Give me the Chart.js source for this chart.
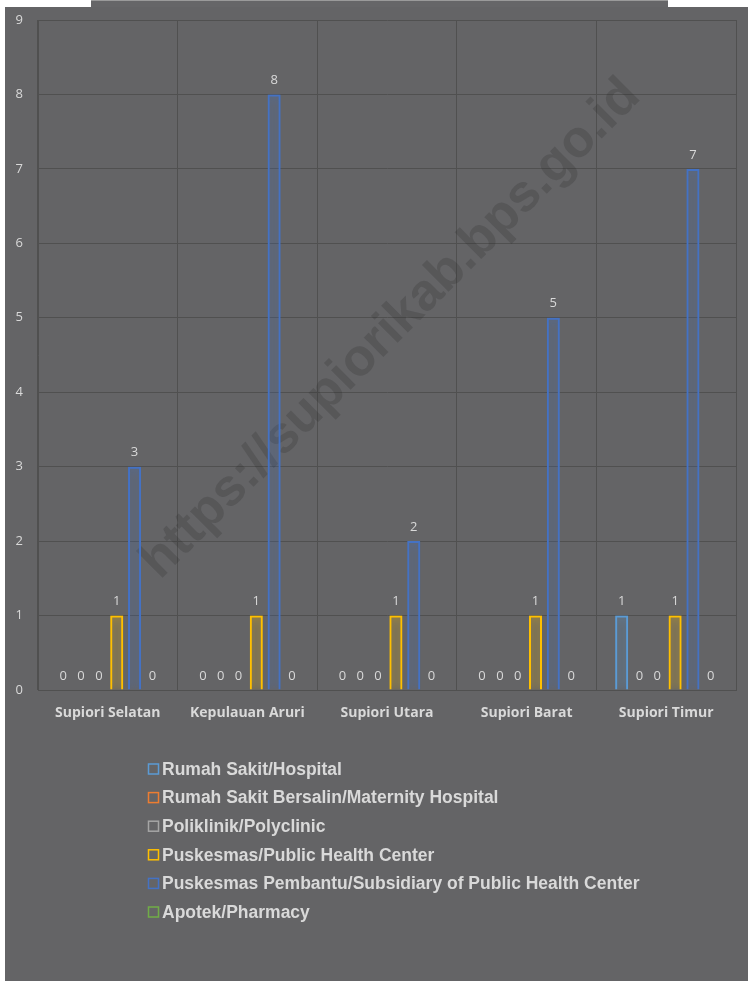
<!DOCTYPE html>
<html>
<head>
<meta charset="utf-8">
<script src="https://cdn.jsdelivr.net/npm/chart.js@4.4.1/dist/chart.umd.min.js"></script>
<style>
  html, body { margin: 0; padding: 0; background: #ffffff; }
  body { width: 748px; height: 981px; position: relative; overflow: hidden; }
  #tab { position: absolute; left: 91px; top: 0; width: 577px; height: 7px; background: #666668; border-top: 1px solid #9a9a9a; box-sizing: border-box; }
  #box { position: absolute; left: 5px; top: 7px; width: 743px; height: 974px; background: #646466; }
  canvas { display: block; }
</style>
</head>
<body>
<div id="tab"></div>
<div id="box"><canvas id="chart" width="743" height="974"></canvas></div>
<script>
const districts = ['Supiori Selatan', 'Kepulauan Aruri', 'Supiori Utara', 'Supiori Barat', 'Supiori Timur'];

const seriesNames = [
    'Rumah Sakit/Hospital',
    'Rumah Sakit Bersalin/Maternity Hospital',
    'Poliklinik/Polyclinic',
    'Puskesmas/Public Health Center',
    'Puskesmas Pembantu/Subsidiary of Public Health Center',
    'Apotek/Pharmacy'
];

const hospital = [0, 0, 0, 0, 1];
const maternity = [0, 0, 0, 0, 0];
const polyclinic = [0, 0, 0, 0, 0];
const puskesmas = [1, 1, 1, 1, 1];
const pustu = [3, 8, 2, 5, 7];
const pharmacy = [0, 0, 0, 0, 0];

const seriesColors = ['#5b9bd5', '#ed7d31', '#a5a5a5', '#ffc000', '#4472c4', '#70ad47'];
const yTicks = [0, 1, 2, 3, 4, 5, 6, 7, 8, 9];

const textColor = '#d9d9d9';
const watermarkText = 'https://supiorikab.bps.go.id';

const allSeries = [hospital, maternity, polyclinic, puskesmas, pustu, pharmacy];

// glow round the outlined bars
const glowPlugin = {
    id: 'glow',
    beforeDatasetDraw(chart, args) {
        const ctx = chart.ctx;
        ctx.save();
        ctx.shadowColor = seriesColors[args.index];
        ctx.shadowBlur = 8;
    },
    afterDatasetDraw(chart) {
        chart.ctx.restore();
    }
};

const watermarkPlugin = {
    id: 'watermark',
    beforeDatasetsDraw(chart) {
        const ctx = chart.ctx;
        ctx.save();
        ctx.translate(386, 322);
        ctx.rotate(-Math.PI / 4);
        ctx.font = 'bold 52px "Liberation Sans", Arial, sans-serif';
        ctx.fillStyle = 'rgba(40, 40, 40, 0.22)';
        ctx.textAlign = 'center';
        ctx.textBaseline = 'middle';
        ctx.fillText(watermarkText, 0, 0);
        ctx.restore();
    }
};

const valueLabels = {
    id: 'valueLabels',
    afterDatasetsDraw(chart) {
        const ctx = chart.ctx;
        ctx.save();
        ctx.font = '13px "Open Sans", sans-serif';
        ctx.fillStyle = textColor;
        ctx.textAlign = 'center';
        ctx.textBaseline = 'middle';
        chart.data.datasets.forEach((ds, i) => {
            const meta = chart.getDatasetMeta(i);
            meta.data.forEach((bar, j) => {
                ctx.fillText(String(ds.data[j]), bar.x, bar.y - 14);
            });
        });
        ctx.restore();
    }
};

const sideLegend = {
    id: 'sideLegend',
    afterDraw(chart) {
        const ctx = chart.ctx;
        ctx.save();
        ctx.font = 'bold 17.5px "Liberation Sans", Arial, sans-serif';
        ctx.textBaseline = 'middle';
        ctx.textAlign = 'left';
        const x0 = 143;
        const y0 = 762;
        chart.data.datasets.forEach((ds, i) => {
            const y = y0 + i * 28.6;
            ctx.strokeStyle = ds.borderColor;
            ctx.lineWidth = 1.5;
            ctx.strokeRect(x0 + 0.5, y - 5, 10, 10);
            ctx.fillStyle = textColor;
            ctx.fillText(ds.label, x0 + 14, y + 1);
        });
        ctx.restore();
    }
};

new Chart(document.getElementById('chart'), {
    type: 'bar',
    data: {
        labels: districts,
        datasets: allSeries.map((values, i) => ({
            label: seriesNames[i],
            data: values,
            backgroundColor: 'rgba(0, 0, 0, 0)',
            borderColor: seriesColors[i],
            borderWidth: 2,
            categoryPercentage: 0.766,
            barPercentage: 0.73
        }))
    },
    options: {
        responsive: false,
        animation: false,
        layout: {
            padding: { top: 13, right: 12, left: 0, bottom: 0 }
        },
        plugins: {
            legend: { display: false },
            tooltip: { enabled: false }
        },
        scales: {
            x: {
                grid: { color: '#505050', lineWidth: 1, drawTicks: false, offset: true },
                border: { color: '#505050' },
                ticks: {
                    color: textColor,
                    padding: 15,
                    font: { family: '"Open Sans", sans-serif', size: 14, weight: 'bold' }
                },
                afterFit(scale) {
                    scale.height = 291;
                    scale.paddingLeft = 0;
                    scale.paddingRight = 0;
                }
            },
            y: {
                min: 0,
                max: 9,
                afterBuildTicks(scale) { scale.ticks = yTicks.map(v => ({ value: v })); },
                grid: { color: '#505050', lineWidth: 1, drawTicks: false },
                border: { color: '#505050' },
                ticks: {
                    color: textColor,
                    padding: 15,
                    font: { family: '"Open Sans", sans-serif', size: 13 }
                },
                afterFit(scale) {
                    scale.width = 33;
                    scale.paddingTop = 0;
                    scale.paddingBottom = 0;
                }
            }
        }
    },
    plugins: [glowPlugin, watermarkPlugin, valueLabels, sideLegend]
});
</script>
</body>
</html>
